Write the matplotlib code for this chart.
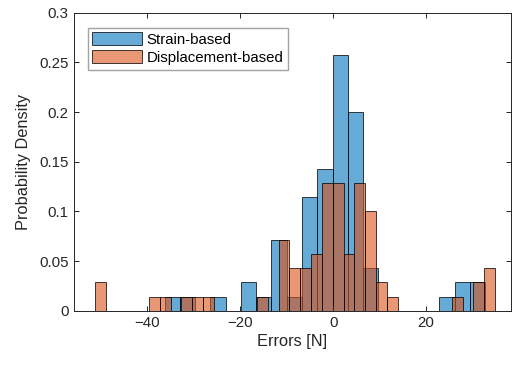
import numpy as np
import matplotlib
matplotlib.use("Agg")
import matplotlib.pyplot as plt

plt.rcParams['font.family'] = ['Liberation Sans', 'DejaVu Sans']

# Data: bin counts (probability normalisation, N = 70 per series)
n_samples = 70
strain_first_edge = -36.28
strain_bin_width = 3.286
strain_counts = [1, 1, 0, 1, 0, 2, 1, 5, 1, 8, 10, 18, 14, 3, 0, 0, 0, 0, 1, 2, 2]

disp_first_edge = -51.32
disp_bin_width = 2.329
disp_counts = [2, 0, 0, 0, 0, 1, 1, 0, 1, 1, 1, 0, 0, 0, 0, 1, 0, 5, 3, 3,
               4, 9, 9, 4, 9, 7, 2, 1, 0, 0, 0, 0, 0, 1, 0, 2, 3]

labels = ["Strain-based", "Displacement-based"]
x_ticks = [-40, -20, 0, 20]
y_ticks = [0, 0.05, 0.1, 0.15, 0.2, 0.25, 0.3]
y_tick_labels = ["0", "0.05", "0.1", "0.15", "0.2", "0.25", "0.3"]

fig = plt.figure(figsize=(5.12, 3.65), dpi=100)
ax = fig.add_axes([74/512, 1-310.7/365, (511-74)/512, (310.7-12.7)/365])

blue = (0.0, 0.447, 0.741)
orange = (0.85, 0.325, 0.098)

def draw(first, width, counts, color, label):
    counts = np.asarray(counts, float)
    edges = first + width*np.arange(len(counts)+1)
    centers = 0.5*(edges[:-1]+edges[1:])
    ax.hist(centers, bins=edges, weights=counts/n_samples,
            facecolor=color+(0.6,), edgecolor=(0, 0, 0, 0.75),
            linewidth=0.7, label=label)

draw(strain_first_edge, strain_bin_width, strain_counts, blue, labels[0])
draw(disp_first_edge, disp_bin_width, disp_counts, orange, labels[1])

ax.set_xlim(-55.8, 38.3)
ax.set_ylim(0, 0.3)
ax.set_xticks(x_ticks)
ax.set_yticks(y_ticks)
ax.set_yticklabels(y_tick_labels)
ax.tick_params(direction='in', length=3.5, width=0.7, top=True, right=True,
               labelsize=10.8, colors='0.15', pad=4)
for s in ax.spines.values():
    s.set_color('0.15')
    s.set_linewidth(0.7)
ax.set_xlabel("Errors [N]", fontsize=11.8, color='0.15', labelpad=3)
ax.set_ylabel("Probability Density", fontsize=11.8, color='0.15', labelpad=6)

leg = ax.legend(loc='upper left', bbox_to_anchor=(0.032, 0.95), fontsize=10.8,
                frameon=True, fancybox=False, handlelength=3.3, handleheight=0.95,
                handletextpad=0.3, borderpad=0.3, labelspacing=0.25,
                borderaxespad=0)
leg.get_frame().set_edgecolor('0.55')
leg.get_frame().set_linewidth(1.0)

fig.savefig("out.png", dpi=100)
